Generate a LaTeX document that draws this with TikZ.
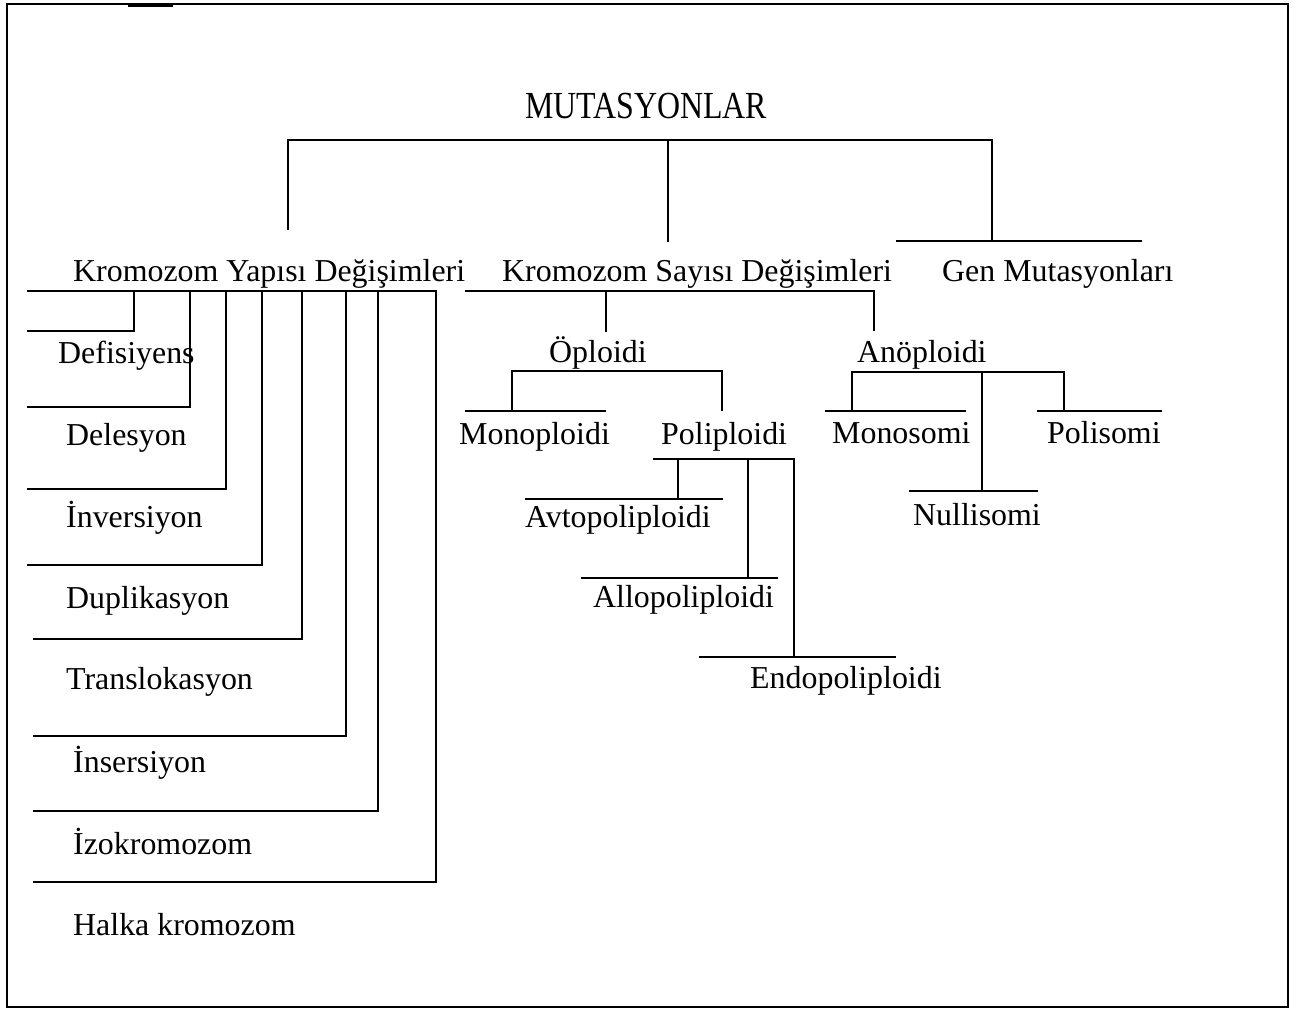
\documentclass[tikz,border=0pt]{standalone}
\usepackage{fontspec}
\usepackage{graphicx}
\setmainfont{Liberation Serif}
\begin{document}
\begin{tikzpicture}[x=1pt,y=-1pt,
  lbl/.style={anchor=base west,inner sep=0pt,font=\fontsize{31.9}{38}\selectfont},
  ln/.style={line width=1.4pt},
  frame/.style={line width=1.6pt}]
\useasboundingbox (0,0) rectangle (1301,1012);
\draw[frame] (7,4) rectangle (1288,1007);
\draw[line width=3pt] (128,5) -- (173,5);

% labels
\node[lbl] (mut) at (525,118) {\scalebox{1}[1.2]{MUTASYONLAR}};
\node[lbl] (kyd) at (73,281) {Kromozom Yapısı Değişimleri};
\node[lbl] (ksd) at (502,281) {Kromozom Sayısı Değişimleri};
\node[lbl] (gen) at (942,281) {Gen Mutasyonları};
\node[lbl] (def) at (58,363) {Defisiyens};
\node[lbl] (del) at (66,445) {Delesyon};
\node[lbl] (inv) at (66,527) {İnversiyon};
\node[lbl] (dup) at (66,608) {Duplikasyon};
\node[lbl] (tra) at (66,689) {Translokasyon};
\node[lbl] (ins) at (73,772) {İnsersiyon};
\node[lbl] (izo) at (73,854) {İzokromozom};
\node[lbl] (hal) at (73,935) {Halka kromozom};
\node[lbl] (opl) at (549,362) {Öploidi};
\node[lbl] (anp) at (857,362) {Anöploidi};
\node[lbl] (mon) at (459,444) {Monoploidi};
\node[lbl] (pol) at (661,444) {Poliploidi};
\node[lbl] (mos) at (832,443) {Monosomi};
\node[lbl] (pos) at (1047,443) {Polisomi};
\node[lbl] (nul) at (913,525) {Nullisomi};
\node[lbl] (avt) at (525,527) {Avtopoliploidi};
\node[lbl] (all) at (593,607) {Allopoliploidi};
\node[lbl] (end) at (750,688) {Endopoliploidi};

% top level
\coordinate (t1) at (288,140); \coordinate (t2) at (668,140); \coordinate (t3) at (992,140);
\coordinate (kydT) at (288,230); \coordinate (ksdT) at (668,242); \coordinate (genT) at (992,241);
\draw[ln] (kydT) -- (t1) -- (t3) -- (genT);
\draw[ln] (t2) -- (ksdT);
\draw[ln] (896,241) -- (1142,241);

% Kromozom Yapisi
\coordinate (y0) at (27,291); \coordinate (y8) at (436,291);
\draw[ln] (y0) -- (y8) -- (436,882) -- (33,882);
\draw[ln] (134,291) -- (134,331) -- (27,331);
\draw[ln] (190,291) -- (190,407) -- (27,407);
\draw[ln] (226,291) -- (226,489) -- (27,489);
\draw[ln] (262,291) -- (262,565) -- (27,565);
\draw[ln] (302,291) -- (302,639) -- (33,639);
\draw[ln] (346,291) -- (346,736) -- (33,736);
\draw[ln] (378,291) -- (378,811) -- (33,811);

% Kromozom Sayisi
\draw[ln] (465,291) -- (874,291) -- (874,331);
\draw[ln] (606,291) -- (606,332);

% Oploidi
\draw[ln] (512,411) -- (512,371) -- (722,371) -- (722,411);
\draw[ln] (465,411) -- (606,411);

% Poliploidi
\draw[ln] (653,459) -- (794,459) -- (794,657);
\draw[ln] (678,459) -- (678,499);
\draw[ln] (748,459) -- (748,578);
\draw[ln] (525,499) -- (723,499);
\draw[ln] (581,578) -- (778,578);
\draw[ln] (699,657) -- (896,657);

% Anoploidi
\draw[ln] (852,411) -- (852,372) -- (1064,372) -- (1064,411);
\draw[ln] (982,372) -- (982,491);
\draw[ln] (825,411) -- (966,411);
\draw[ln] (1037,411) -- (1162,411);
\draw[ln] (909,491) -- (1038,491);
\end{tikzpicture}
\end{document}
